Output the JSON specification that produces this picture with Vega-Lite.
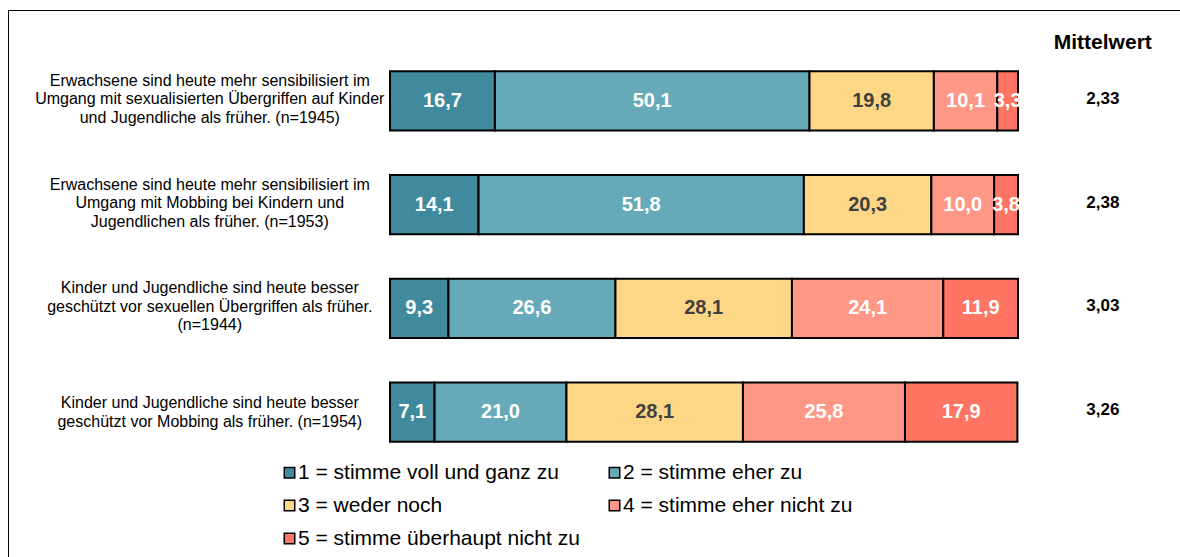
{
  "$schema": "https://vega.github.io/schema/vega-lite/v6.json",
  "autosize": {"type": "none"},
  "width": 1178,
  "height": 553,
  "padding": {"left": 8, "top": 10, "right": -6, "bottom": -6},
  "background": "white",
  "config": {
    "font": "Liberation Sans",
    "view": {"stroke": "#000000", "strokeWidth": 1},
    "locale": {"number": {"decimal": ",", "thousands": ".", "grouping": [3], "currency": ["", " €"]}}
  },
  "datasets": {
    "bars": [
      {"q": "Q1", "cat": "1 = stimme voll und ganz zu", "pct": 16.7},
      {"q": "Q1", "cat": "2 = stimme eher zu", "pct": 50.1},
      {"q": "Q1", "cat": "3 = weder noch", "pct": 19.8},
      {"q": "Q1", "cat": "4 = stimme eher nicht zu", "pct": 10.1},
      {"q": "Q1", "cat": "5 = stimme überhaupt nicht zu", "pct": 3.3},
      {"q": "Q2", "cat": "1 = stimme voll und ganz zu", "pct": 14.1},
      {"q": "Q2", "cat": "2 = stimme eher zu", "pct": 51.8},
      {"q": "Q2", "cat": "3 = weder noch", "pct": 20.3},
      {"q": "Q2", "cat": "4 = stimme eher nicht zu", "pct": 10.0},
      {"q": "Q2", "cat": "5 = stimme überhaupt nicht zu", "pct": 3.8},
      {"q": "Q3", "cat": "1 = stimme voll und ganz zu", "pct": 9.3},
      {"q": "Q3", "cat": "2 = stimme eher zu", "pct": 26.6},
      {"q": "Q3", "cat": "3 = weder noch", "pct": 28.1},
      {"q": "Q3", "cat": "4 = stimme eher nicht zu", "pct": 24.1},
      {"q": "Q3", "cat": "5 = stimme überhaupt nicht zu", "pct": 11.9},
      {"q": "Q4", "cat": "1 = stimme voll und ganz zu", "pct": 7.1},
      {"q": "Q4", "cat": "2 = stimme eher zu", "pct": 21.0},
      {"q": "Q4", "cat": "3 = weder noch", "pct": 28.1},
      {"q": "Q4", "cat": "4 = stimme eher nicht zu", "pct": 25.8},
      {"q": "Q4", "cat": "5 = stimme überhaupt nicht zu", "pct": 17.9}
    ],
    "questions": [
      {"q": "Q1", "label": "Erwachsene sind heute mehr sensibilisiert im\nUmgang mit sexualisierten Übergriffen auf Kinder\nund Jugendliche als früher. (n=1945)", "mean": 2.33},
      {"q": "Q2", "label": "Erwachsene sind heute mehr sensibilisiert im\nUmgang mit Mobbing bei Kindern und\nJugendlichen als früher. (n=1953)", "mean": 2.38},
      {"q": "Q3", "label": "Kinder und Jugendliche sind heute besser\ngeschützt vor sexuellen Übergriffen als früher.\n(n=1944)", "mean": 3.03},
      {"q": "Q4", "label": "Kinder und Jugendliche sind heute besser\ngeschützt vor Mobbing als früher. (n=1954)", "mean": 3.26}
    ],
    "header": [{"h": "Mittelwert"}]
  },
  "encoding": {
    "y": {
      "field": "q",
      "type": "nominal",
      "axis": null,
      "scale": {"domain": ["Q1", "Q2", "Q3", "Q4"], "range": [39, 454], "paddingInner": 0.43, "paddingOuter": 0.215}
    }
  },
  "layer": [
    {
      "data": {"name": "bars"},
      "transform": [
        {"stack": "pct", "groupby": ["q"], "sort": [{"field": "cat", "order": "ascending"}], "as": ["x0", "x1"]},
        {"calculate": "(datum.x0 + datum.x1) / 2", "as": "mid"}
      ],
      "layer": [
        {
          "mark": {"type": "bar", "stroke": "#000000", "strokeWidth": 2},
          "encoding": {
            "x": {"field": "x0", "type": "quantitative", "axis": null, "scale": {"domain": [-60.83, 126.75], "nice": false, "zero": false}},
            "x2": {"field": "x1"},
            "color": {
              "field": "cat",
              "type": "nominal",
              "scale": {
                "domain": ["1 = stimme voll und ganz zu", "2 = stimme eher zu", "3 = weder noch", "4 = stimme eher nicht zu", "5 = stimme überhaupt nicht zu"],
                "range": ["#3F8A9D", "#66AABA", "#FED786", "#FF9786", "#FF7462"]
              },
              "legend": {
                "orient": "none",
                "legendX": 271,
                "legendY": 452,
                "direction": "horizontal",
                "columns": 2,
                "title": null,
                "symbolType": "square",
                "symbolSize": 110,
                "symbolStrokeColor": "#000000",
                "symbolStrokeWidth": 1.5,
                "symbolOpacity": 1,
                "labelFontSize": 21,
                "labelColor": "#000000",
                "labelOffset": -2,
                "labelLimit": 0,
                "columnPadding": 24,
                "rowPadding": 11,
                "padding": 0
              }
            }
          }
        },
        {
          "mark": {"type": "text", "fontWeight": "bold", "fontSize": 20, "baseline": "middle", "align": "center"},
          "encoding": {
            "x": {"field": "mid", "type": "quantitative"},
            "text": {"field": "pct", "type": "quantitative", "format": ".1f"},
            "color": {"condition": {"test": "datum.cat === '3 = weder noch'", "value": "#404040"}, "value": "#FFFFFF"}
          }
        }
      ]
    },
    {
      "data": {"name": "questions"},
      "transform": [{"filter": "datum.q !== 'Q4'"}],
      "mark": {"type": "text", "fontSize": 16, "align": "center", "baseline": "middle", "lineBreak": "\n", "lineHeight": 18.5, "dy": -20, "color": "#000000"},
      "encoding": {
        "x": {"datum": -28.7, "type": "quantitative"},
        "text": {"field": "label", "type": "nominal"}
      }
    },
    {
      "data": {"name": "questions"},
      "transform": [{"filter": "datum.q === 'Q4'"}],
      "mark": {"type": "text", "fontSize": 16, "align": "center", "baseline": "middle", "lineBreak": "\n", "lineHeight": 18.5, "dy": -9, "color": "#000000"},
      "encoding": {
        "x": {"datum": -28.7, "type": "quantitative"},
        "text": {"field": "label", "type": "nominal"}
      }
    },
    {
      "data": {"name": "questions"},
      "mark": {"type": "text", "fontSize": 17, "fontWeight": "bold", "align": "center", "baseline": "middle", "dy": -2, "color": "#000000"},
      "encoding": {
        "x": {"datum": 113.5, "type": "quantitative"},
        "text": {"field": "mean", "type": "quantitative", "format": ".2f"}
      }
    },
    {
      "data": {"name": "header"},
      "mark": {"type": "text", "fontSize": 21, "fontWeight": "bold", "align": "center", "baseline": "middle", "dy": -58, "color": "#000000"},
      "encoding": {
        "x": {"datum": 113.5, "type": "quantitative"},
        "y": {"datum": "Q1", "type": "nominal"},
        "text": {"field": "h", "type": "nominal"}
      }
    }
  ]
}
